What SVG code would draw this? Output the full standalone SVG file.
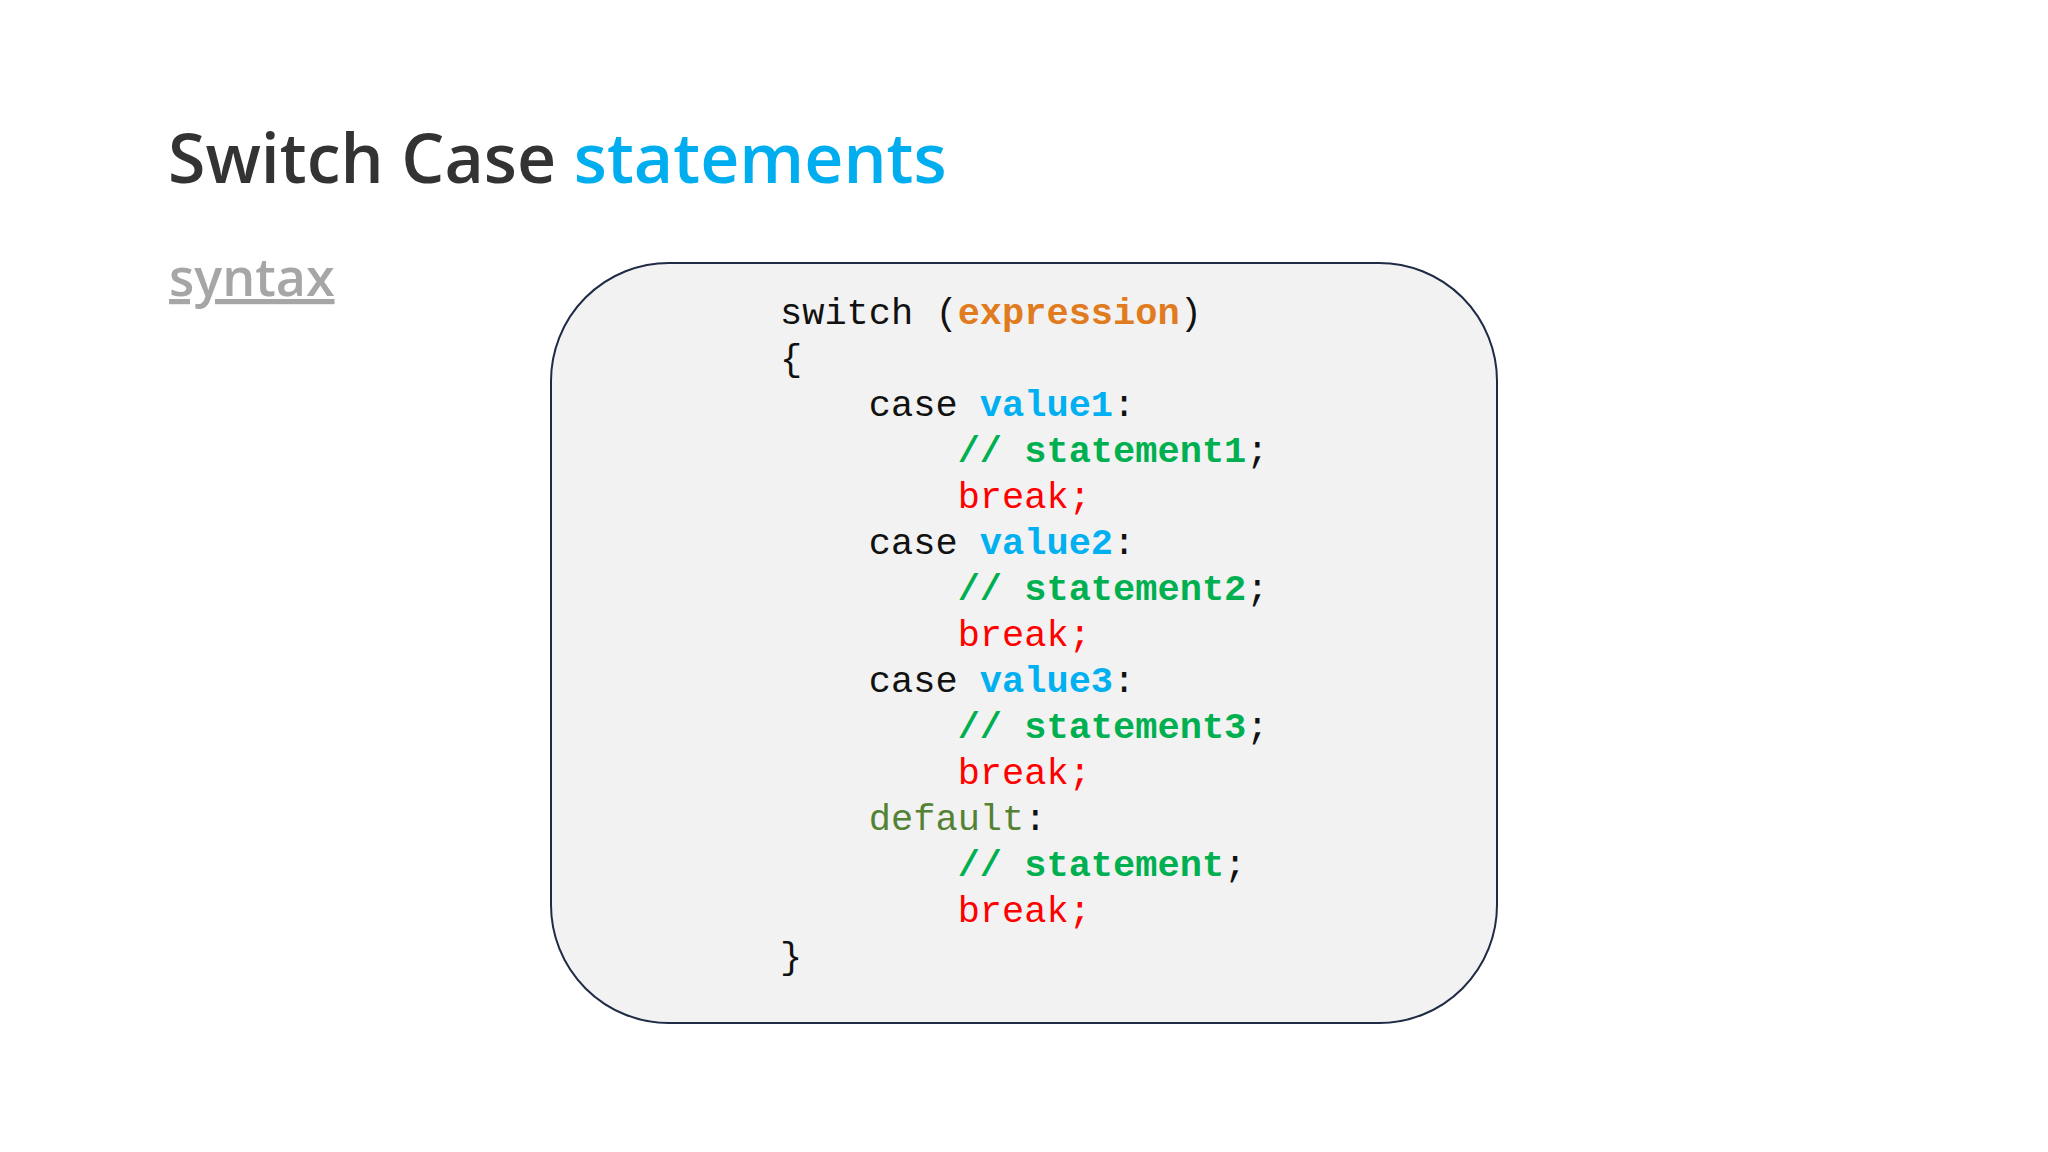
<svg xmlns="http://www.w3.org/2000/svg" width="2048" height="1152" viewBox="0 0 2048 1152">
<style>
.t{font-family:"Open Sans","Liberation Sans",sans-serif;font-weight:600;font-size:68px;fill:#333}
.c{font-family:"Liberation Mono","DejaVu Sans Mono",monospace;font-size:37px;fill:#111}
.o{fill:#e07b20;font-weight:bold}.b{fill:#00b0f0;font-weight:bold}.g{fill:#00b050;font-weight:bold}.r{fill:#ff0000}.d{fill:#548235}
</style>
<rect width="2048" height="1152" fill="#fff"/>
<g id="title"><text class="t" x="168" y="183">Switch Case <tspan fill="#00aeef">statements</tspan></text></g>
<g id="syntax"><text x="169" y="296" font-family="Open Sans,Liberation Sans,sans-serif" font-weight="600" font-size="52" fill="#a6a6a6" text-decoration="underline">syntax</text></g>
<g id="codebox">
<rect x="551" y="263" width="946" height="760" rx="118" fill="#f2f2f2" stroke="#1f2a44" stroke-width="2"/>
<text class="c" xml:space="preserve">
<tspan x="780" y="324">switch (<tspan class="o">expression</tspan>)</tspan>
<tspan x="780" y="370">{</tspan>
<tspan x="780" y="416">    case <tspan class="b">value1</tspan>:</tspan>
<tspan x="780" y="462">        <tspan class="g">// statement1</tspan>;</tspan>
<tspan x="780" y="508">        <tspan class="r">break;</tspan></tspan>
<tspan x="780" y="554">    case <tspan class="b">value2</tspan>:</tspan>
<tspan x="780" y="600">        <tspan class="g">// statement2</tspan>;</tspan>
<tspan x="780" y="646">        <tspan class="r">break;</tspan></tspan>
<tspan x="780" y="692">    case <tspan class="b">value3</tspan>:</tspan>
<tspan x="780" y="738">        <tspan class="g">// statement3</tspan>;</tspan>
<tspan x="780" y="784">        <tspan class="r">break;</tspan></tspan>
<tspan x="780" y="830">    <tspan class="d">default</tspan>:</tspan>
<tspan x="780" y="876">        <tspan class="g">// statement</tspan>;</tspan>
<tspan x="780" y="922">        <tspan class="r">break;</tspan></tspan>
<tspan x="780" y="968">}</tspan>
</text>
</g>
<g id="connectors"/>
</svg>
